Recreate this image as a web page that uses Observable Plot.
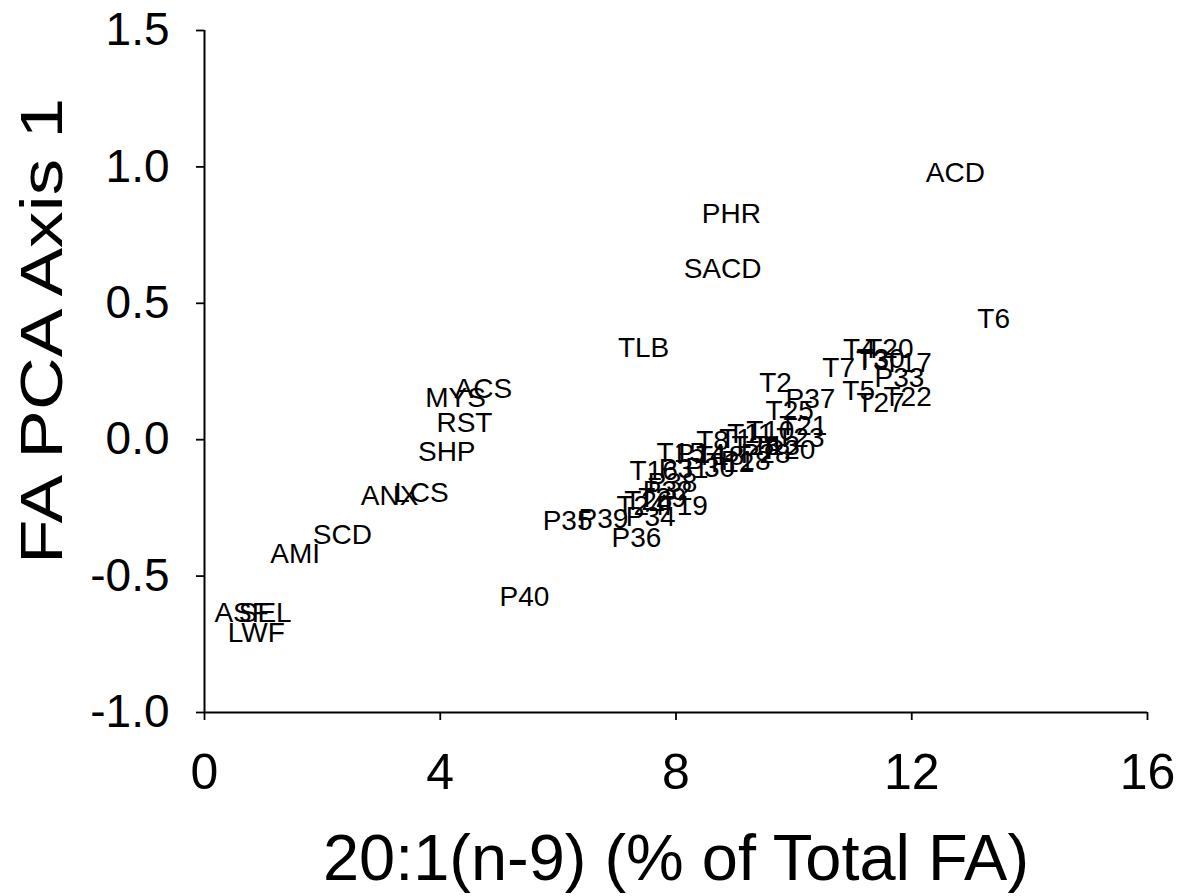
<!DOCTYPE html>
<html>
<head>
<meta charset="utf-8">
<script src="https://cdn.jsdelivr.net/npm/d3@7"></script>
<script src="https://cdn.jsdelivr.net/npm/@observablehq/plot@0.6"></script>
<style>
  html, body { margin: 0; padding: 0; background: #fff; }
  #chart { width: 1179px; height: 896px; }
</style>
</head>
<body>
<div id="chart"></div>
<script>
// Sample labels and their coordinates
const labels = [
  "ACD","PHR","SACD","T6","TLB","ACS","MYS","RST","SHP","LCS","ANX","SCD","AMI","ASF","SEL","LWF",
  "P40","P35","P39","P36","P34","T19","T24","T26","T29","P32","P38","T16","P31","T15","P14","P30",
  "T8","T18","T12","T1","P18","T11","T28","P28","T10","T13","P20","T23","T21",
  "T25","T2","P37","T7","T5","T4","T3","T30","T20","T17","P33","T27","T22"
];
const xValues = [
  12.74, 8.94, 8.79, 13.39, 7.45, 4.73, 4.26, 4.41, 4.11, 3.68, 3.14, 2.34, 1.54, 0.63, 1.03, 0.88,
  5.43, 6.16, 6.77, 7.33, 7.57, 8.13, 7.40, 7.53, 7.77, 7.86, 7.94, 7.62, 8.13, 8.08, 8.42, 8.58,
  8.62, 8.75, 8.92, 9.01, 9.18, 9.26, 9.35, 9.52, 9.60, 9.69, 9.94, 10.11, 10.16,
  9.93, 9.69, 10.28, 10.76, 11.10, 11.11, 11.33, 11.47, 11.62, 11.93, 11.79, 11.47, 11.93
];
const yValues = [
  0.979, 0.828, 0.627, 0.444, 0.337, 0.187, 0.154, 0.062, -0.044, -0.194, -0.205, -0.348, -0.418, -0.634, -0.634, -0.708,
  -0.576, -0.297, -0.290, -0.359, -0.282, -0.242, -0.242, -0.224, -0.213, -0.187, -0.158, -0.114, -0.106, -0.048, -0.051, -0.103,
  -0.004, -0.059, -0.084, 0.004, -0.077, 0.022, -0.022, -0.051, 0.033, -0.022, -0.037, 0.007, 0.051,
  0.106, 0.209, 0.150, 0.264, 0.180, 0.334, 0.290, 0.297, 0.334, 0.282, 0.227, 0.136, 0.158
];
const xTicks = [0, 4, 8, 12, 16];
const yTicks = [-1.0, -0.5, 0.0, 0.5, 1.0, 1.5];
const xTitle = "20:1(n-9) (% of Total FA)";
const yTitle = "FA PCA Axis 1";

const points = labels.map((t, i) => ({label: t, x: xValues[i], y: yValues[i]}));

const font = "'Liberation Sans', Arial, Helvetica, sans-serif";

const plot = Plot.plot({
  width: 1179,
  height: 896,
  marginLeft: 204,
  marginRight: 32,
  marginTop: 30,
  marginBottom: 184,
  style: {fontFamily: font, background: "#fff", color: "#000"},
  x: {domain: [0, 16]},
  y: {domain: [-1, 1.5]},
  marks: [
    Plot.axisX({ticks: xTicks, tickSize: 8, tickPadding: 33, fontSize: 50, label: null,
                tickFormat: d => String(d), strokeWidth: 1.8}),
    Plot.axisY({ticks: yTicks, tickSize: 8, tickPadding: 27, fontSize: 46, label: null,
                tickFormat: d => d.toFixed(1), strokeWidth: 1.8}),
    Plot.ruleX([0], {stroke: "#000", strokeWidth: 2}),
    Plot.ruleY([-1], {stroke: "#000", strokeWidth: 2}),
    Plot.text(points, {x: "x", y: "y", text: "label", fontSize: 28, fill: "#000",
                       textAnchor: "middle", lineAnchor: "middle"})
  ]
});

const svg = d3.select(plot);
svg.append("text")
  .attr("x", 676).attr("y", 880)
  .attr("text-anchor", "middle")
  .attr("font-size", 64)
  .attr("font-family", font)
  .attr("fill", "#000")
  .attr("textLength", 706)
  .attr("lengthAdjust", "spacingAndGlyphs")
  .text(xTitle);
svg.append("text")
  .attr("transform", "translate(62,331) rotate(-90)")
  .attr("text-anchor", "middle")
  .attr("font-size", 60)
  .attr("font-family", font)
  .attr("fill", "#000")
  .attr("textLength", 466)
  .attr("lengthAdjust", "spacingAndGlyphs")
  .text(yTitle);

document.getElementById("chart").appendChild(plot);
</script>
</body>
</html>
